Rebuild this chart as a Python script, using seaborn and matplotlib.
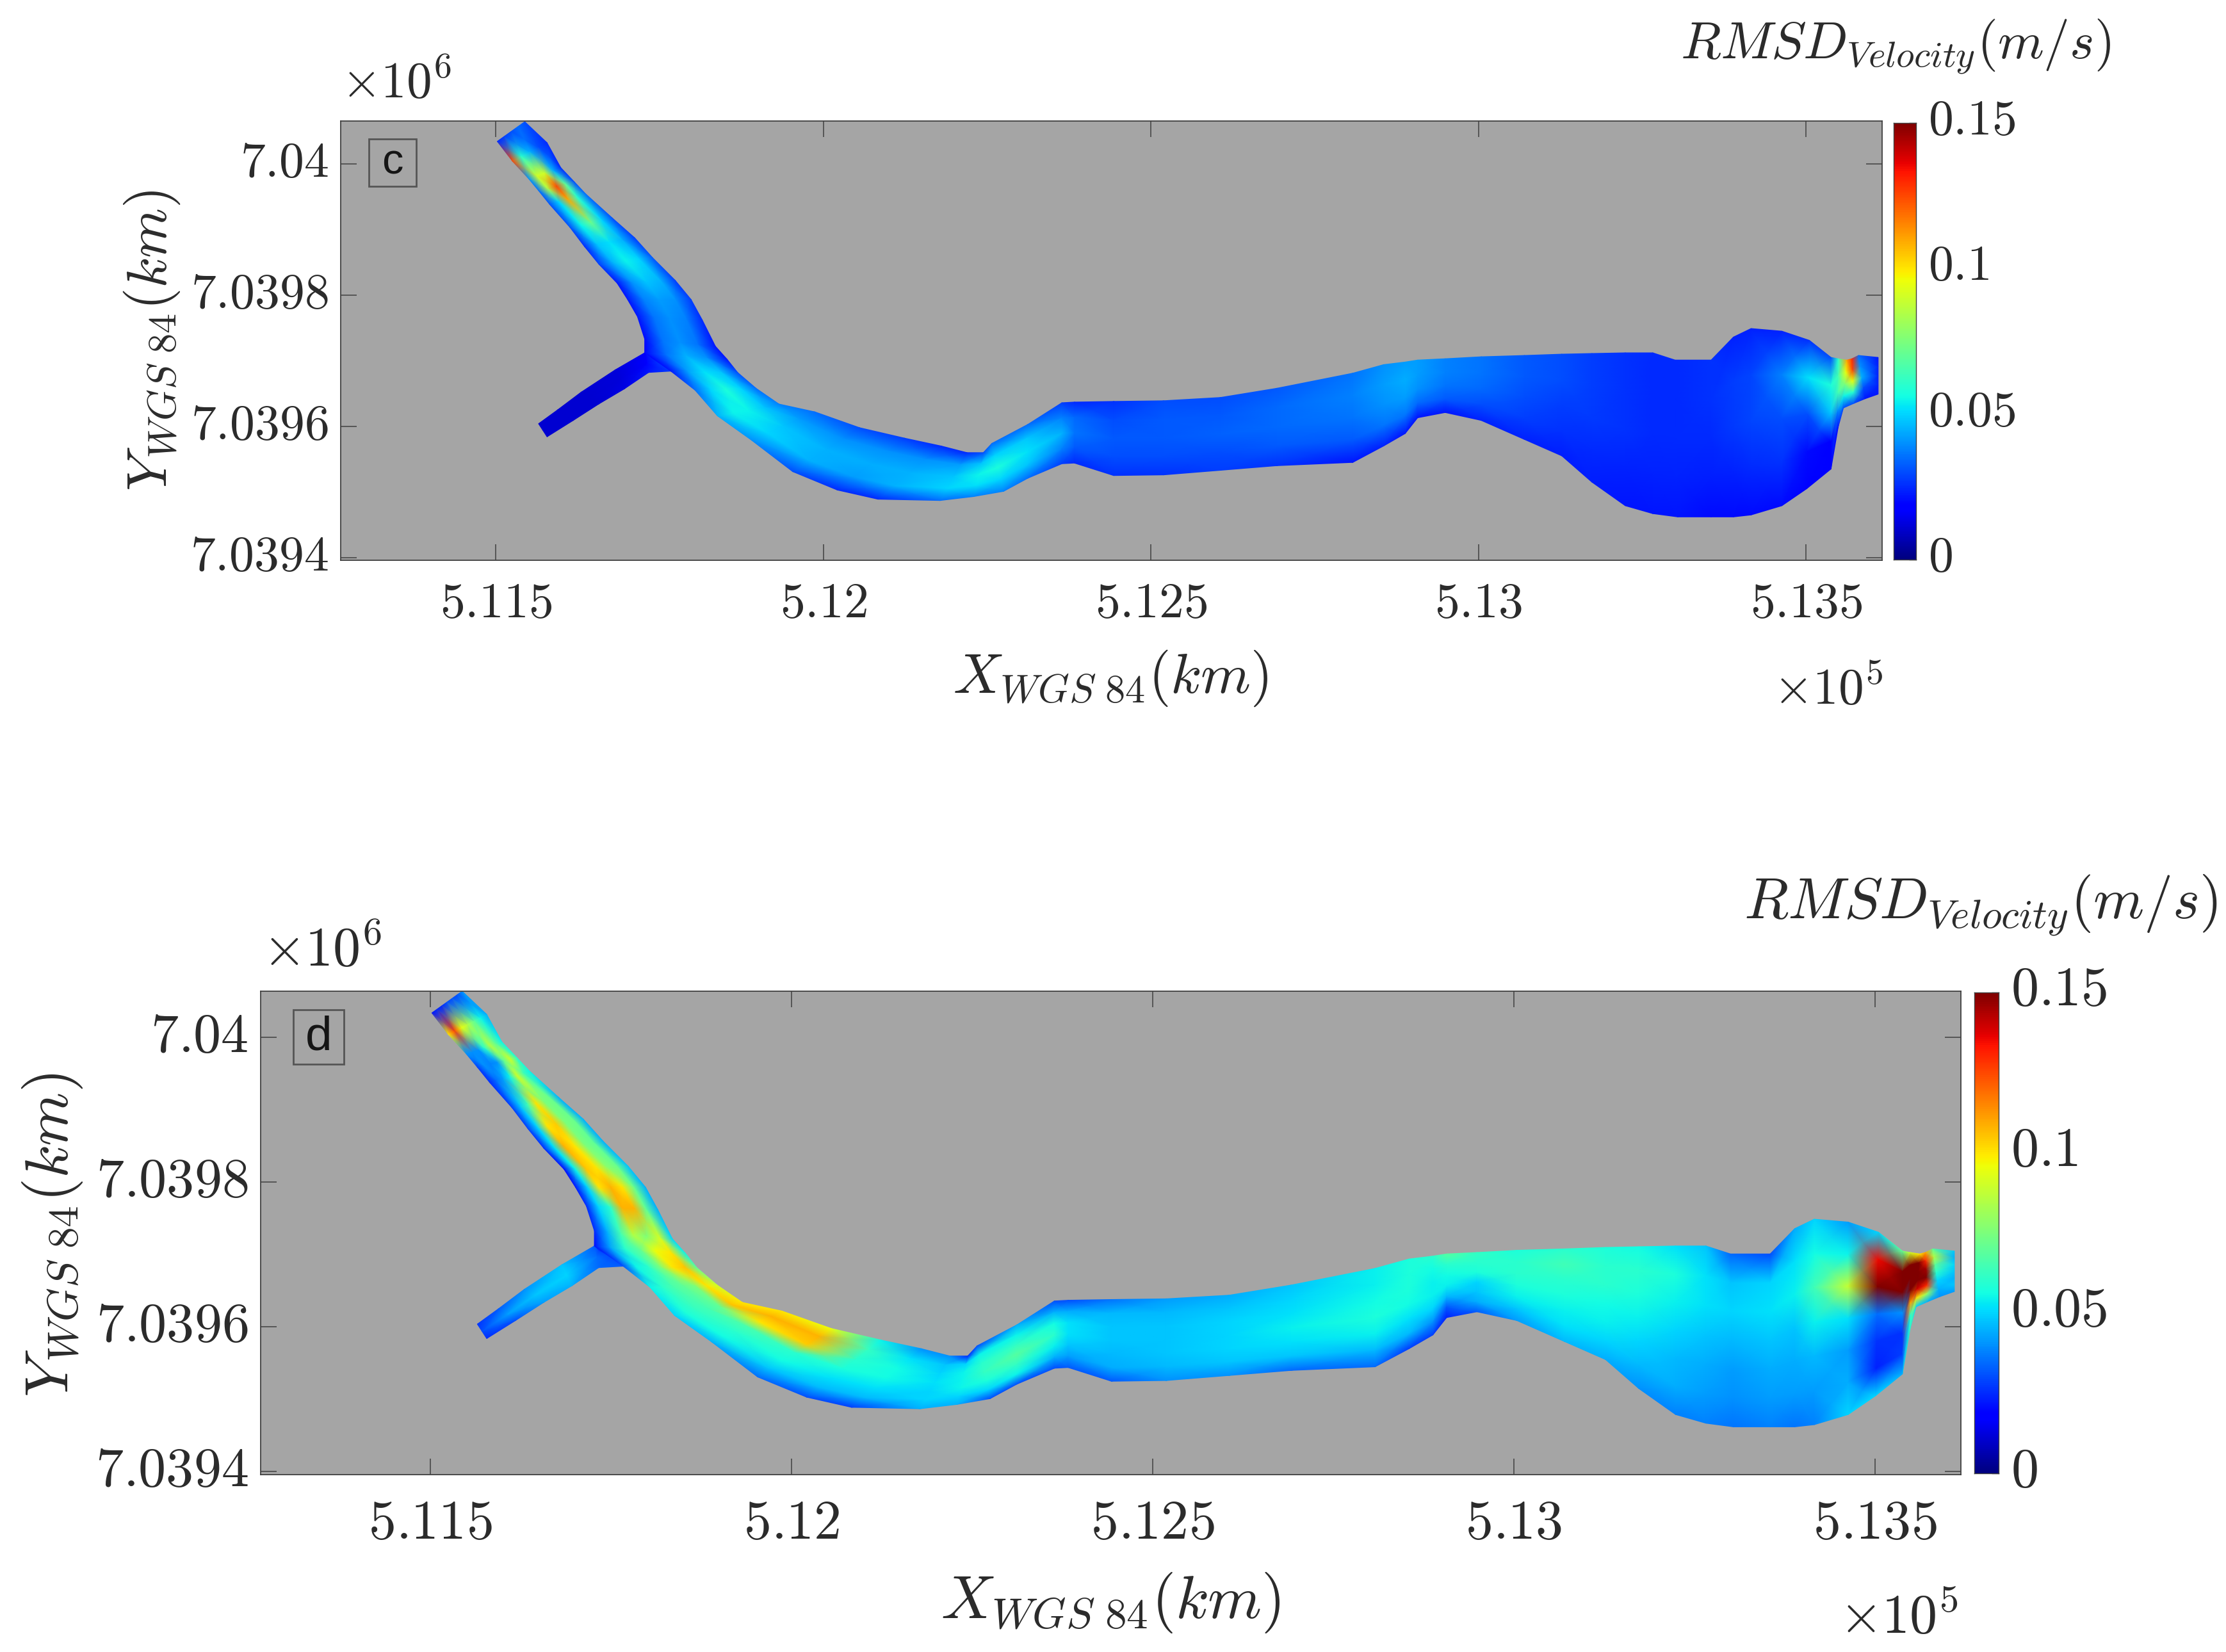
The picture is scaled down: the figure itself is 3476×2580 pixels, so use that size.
import numpy as np
import seaborn as sns
import matplotlib.pyplot as plt
from matplotlib.patches import Rectangle
from matplotlib.transforms import Affine2D

# river outline, metres relative to X0 / Y0 (one cross section per entry)
X0 = 511000
Y0 = 7039000
bank_a_x = [544, 578, 599, 620, 637, 678, 712, 739, 774, 798, 815, 835, 853, 869, 897, 932, 987, 1055, 1124, 1180,
            1219, 1244, 1257, 1312, 1364, 1383, 1443, 1519, 1606, 1692, 1808, 1855, 1888, 1907, 1949, 2004, 2070,
            2127, 2173, 2224, 2266, 2300, 2355, 2389, 2416, 2463, 2505, 2538, 2549, 2562, 2570, 2580, 2610]
bank_a_y = [1064, 1032, 994, 972, 954, 917, 887, 857, 822, 793, 762, 722, 702, 682, 658, 634, 622, 598, 582, 570,
            560, 560, 574, 603, 636, 637, 638, 639, 644, 658, 681, 694, 698, 701, 703, 706, 708,
            710, 711, 712, 712, 701, 701, 736, 749, 745, 731, 705, 703, 701, 703, 708, 705]
bank_b_x = [502, 525, 550, 565, 582, 613, 635, 657, 685, 701, 716, 727, 727, 767, 804, 838, 890, 953, 1021, 1083,
            1178, 1229, 1275, 1312, 1364, 1383, 1443, 1519, 1606, 1692, 1808, 1855, 1888, 1907, 1949, 2004, 2070,
            2127, 2173, 2224, 2266, 2304, 2355, 2389, 2416, 2463, 2501, 2538, 2549, 2557, 2573, 2590, 2610]
bank_b_y = [1034, 1004, 977, 959, 938, 903, 874, 847, 818, 793, 767, 733, 712, 684, 655, 616, 579, 531, 503, 489,
            487, 493, 501, 521, 543, 544, 525, 526, 533, 540, 545, 570, 589, 613, 621, 609, 580,
            555, 515, 479, 467, 462, 462, 462, 465, 479, 505, 535, 599, 628, 635, 642, 649]

# side channel
branch_a_x = [727, 727, 682, 630, 594, 565]
branch_a_y = [712, 712, 686, 652, 625, 604]
branch_b_x = [767, 733, 696, 657, 618, 578]
branch_b_y = [684, 682, 657, 634, 609, 584]

# RMSD in mm/s, read across each section from bank a to bank b
rmsd_c = [
    [30, 35, 30, 28, 25], [25, 30, 45, 60, 125], [25, 45, 90, 90, 40], [30, 70, 125, 85, 35],
    [35, 60, 110, 50, 30], [30, 50, 72, 55, 30], [28, 45, 52, 48, 25], [32, 50, 55, 45, 28],
    [28, 45, 48, 40, 22], [28, 40, 42, 38, 22], [25, 38, 40, 36, 22], [22, 36, 40, 36, 20],
    [22, 40, 45, 35, 18], [30, 48, 52, 42, 22], [35, 50, 58, 50, 35], [38, 48, 55, 55, 45],
    [35, 42, 48, 50, 40], [30, 40, 45, 45, 30], [28, 40, 44, 42, 25], [25, 40, 45, 45, 25],
    [25, 42, 48, 50, 35], [30, 48, 55, 52, 38], [35, 50, 58, 50, 38], [35, 48, 52, 48, 35],
    [28, 38, 45, 38, 28], [25, 34, 36, 32, 25], [26, 30, 32, 30, 26], [30, 32, 32, 30, 26],
    [30, 32, 33, 30, 28], [32, 34, 34, 32, 26], [36, 38, 36, 32, 22], [40, 42, 40, 36, 24],
    [42, 44, 42, 36, 22], [42, 42, 40, 34, 22], [38, 38, 36, 32, 22], [36, 36, 34, 30, 24],
    [32, 32, 30, 28, 24], [30, 30, 28, 26, 23], [28, 28, 27, 25, 23], [26, 26, 26, 24, 22],
    [25, 25, 25, 24, 22], [25, 25, 25, 24, 22], [26, 26, 25, 23, 20], [24, 28, 27, 24, 20],
    [24, 29, 29, 25, 20], [24, 38, 30, 26, 20], [26, 52, 30, 20, 19], [30, 58, 48, 18, 18],
    [60, 65, 65, 40, 20], [110, 95, 75, 55, 30], [130, 125, 95, 60, 30], [35, 40, 45, 30, 22],
    [22, 24, 24, 24, 22],
]
rmsd_d = [
    [40, 30, 30, 30, 25, 25, 22], [45, 55, 70, 85, 95, 125, 100], [55, 70, 85, 60, 40, 40, 40],
    [60, 90, 70, 40, 38, 40, 28], [55, 65, 90, 55, 42, 35, 25], [45, 72, 75, 100, 65, 48, 28],
    [45, 72, 75, 104, 100, 50, 28], [45, 70, 75, 100, 108, 52, 25], [48, 72, 78, 100, 105, 55, 20],
    [45, 72, 100, 108, 100, 50, 22], [45, 70, 108, 108, 60, 50, 25], [50, 90, 75, 85, 65, 45, 25],
    [55, 100, 95, 70, 60, 42, 20], [70, 105, 100, 75, 60, 55, 30], [90, 100, 75, 70, 66, 60, 55],
    [100, 105, 70, 65, 62, 58, 50], [100, 108, 100, 66, 60, 56, 45], [95, 108, 104, 60, 56, 48, 35],
    [55, 62, 60, 58, 52, 46, 30], [40, 52, 56, 56, 52, 46, 28], [40, 48, 50, 52, 50, 50, 45],
    [25, 50, 55, 55, 55, 50, 45], [30, 55, 60, 62, 58, 50, 30], [45, 55, 62, 68, 62, 55, 30],
    [30, 45, 56, 60, 54, 45, 30], [30, 44, 52, 52, 48, 42, 32], [36, 46, 48, 48, 46, 44, 32],
    [42, 46, 48, 48, 48, 46, 40], [44, 48, 50, 50, 50, 48, 40], [48, 50, 52, 54, 52, 48, 34],
    [54, 54, 56, 58, 54, 46, 34], [58, 58, 58, 56, 52, 46, 28], [60, 56, 54, 54, 50, 40, 28],
    [68, 60, 56, 54, 46, 32, 24], [62, 60, 58, 50, 48, 44, 32], [58, 60, 60, 58, 54, 48, 42],
    [60, 64, 60, 58, 54, 52, 46], [58, 60, 60, 56, 54, 50, 44], [56, 60, 58, 54, 50, 46, 40],
    [52, 58, 54, 50, 46, 44, 38], [48, 52, 52, 48, 44, 42, 38], [34, 48, 50, 46, 42, 40, 36],
    [30, 50, 52, 48, 44, 42, 38], [44, 52, 54, 48, 44, 42, 36], [50, 56, 64, 54, 46, 42, 38],
    [42, 55, 88, 52, 42, 44, 50], [50, 135, 150, 35, 26, 24, 50], [70, 155, 155, 40, 26, 28, 45],
    [90, 155, 155, 155, 110, 60, 60], [100, 150, 155, 155, 140, 100, 50], [110, 130, 145, 150, 130, 80, 45],
    [70, 85, 70, 60, 50, 45, 40], [48, 45, 50, 48, 45, 48, 42],
]
branch_c = [[22, 26, 28], [16, 18, 22], [12, 12, 13], [11, 11, 11], [11, 11, 11], [11, 11, 11]]
branch_d = [[22, 30, 32], [32, 35, 34], [48, 50, 45], [40, 48, 42], [32, 42, 30], [26, 30, 25]]

x_ticks = [511500, 512000, 512500, 513000, 513500]
x_labels = ['5.115', '5.12', '5.125', '5.13', '5.135']
y_ticks = [7040000, 7039800, 7039600, 7039400]
y_labels = ['7.04', '7.0398', '7.0396', '7.0394']
cbar_ticks = [0, 0.05, 0.1, 0.15]
cbar_labels = ['0', '0.05', '0.1', '0.15']
levels = np.linspace(0.15, 0, 256)

W, H = 3476, 2580
TXT = '#2b2b2b'
EDGE = '#404040'

sns.set_style('white')
plt.rcParams['mathtext.fontset'] = 'cm'
jet = plt.get_cmap('jet')

fig = plt.figure(figsize=(W / 100, H / 100), dpi=100)


def fx(x):
    return x / W


def fy(y):
    return 1 - y / H


def add_box(left, top, right, bottom):
    return fig.add_axes([fx(left), fy(bottom), (right - left) / W, (bottom - top) / H])


def section_mesh(ax_, bx_, ay_, by_, values):
    # spread the values evenly between the two banks of each section
    values = np.array(values) / 1000
    t = np.linspace(0, 1, values.shape[1])[None, :]
    xx = (np.array(ax_)[:, None] * (1 - t) + np.array(bx_)[:, None] * t) + X0
    yy = (np.array(ay_)[:, None] * (1 - t) + np.array(by_)[:, None] * t) + Y0
    return xx, yy, values


def raise_labels(labels, px):
    for lab in labels:
        lab.set_transform(lab.get_transform() + Affine2D().translate(0, px))


def draw_panel(box, cbox, xlim, ylim, main, branch, letter, lbox, fs, xpad, lfs):
    ax = add_box(*box)
    ax.set_facecolor('#a5a5a5')
    xx, yy, cc = section_mesh(branch_a_x, branch_b_x, branch_a_y, branch_b_y, branch)
    ax.pcolormesh(xx, yy, cc, shading='gouraud', cmap=jet, vmin=0, vmax=0.15)
    xx, yy, cc = section_mesh(bank_a_x, bank_b_x, bank_a_y, bank_b_y, main)
    ax.pcolormesh(xx, yy, cc, shading='gouraud', cmap=jet, vmin=0, vmax=0.15)
    ax.set_xlim(*xlim)
    ax.set_ylim(*ylim)
    ax.set_xticks(x_ticks)
    ax.set_xticklabels(['$%s$' % s for s in x_labels], fontsize=fs, color=TXT)
    ax.set_yticks(y_ticks)
    ax.set_yticklabels(['$%s$' % s for s in y_labels], fontsize=fs, color=TXT)
    ax.tick_params(axis='x', direction='in', length=18, width=1.1, color=EDGE, top=True, bottom=True, pad=xpad)
    ax.tick_params(axis='y', direction='in', length=18, width=1.1, color=EDGE, left=True, right=True, pad=14)
    raise_labels(ax.get_yticklabels(), 10)
    for s in ax.spines.values():
        s.set_visible(True)
        s.set_color(EDGE)
        s.set_linewidth(1.3)

    cax = add_box(*cbox)
    sns.heatmap(levels[:, None], ax=cax, cmap=jet, vmin=0, vmax=0.15, cbar=False,
                xticklabels=False, yticklabels=False)
    cax.yaxis.tick_right()
    cax.set_yticks([(0.15 - v) / 0.15 * len(levels) for v in cbar_ticks])
    cax.set_yticklabels(['$%s$' % s for s in cbar_labels], fontsize=fs, color=TXT, rotation=0)
    cax.tick_params(axis='y', direction='in', length=8, width=1, color=EDGE, right=True, pad=14)
    raise_labels(cax.get_yticklabels(), 12)
    for s in cax.spines.values():
        s.set_visible(True)
        s.set_color(EDGE)
        s.set_linewidth(1)

    left, top, right, bottom = lbox
    fig.add_artist(Rectangle((fx(left), fy(bottom)), (right - left) / W, (bottom - top) / H, fc='none',
                             ec='#555555', lw=2, transform=fig.transFigure))
    fig.text(fx((left + right) / 2), fy((top + bottom) / 2), letter, ha='center', va='center',
             family='Liberation Sans', fontsize=lfs, color='#151515')


# panel c
draw_panel((532, 189, 2939, 875), (2957, 192, 2992, 874), (511263, 513616), (7039396, 7040065),
           rmsd_c, branch_c, 'c', (576, 217, 650, 291), 56, 21, 48)
# panel d
draw_panel((407, 1548, 3062, 2303), (3083, 1550, 3121, 2301), (511265, 513619), (7039396, 7040064),
           rmsd_d, branch_d, 'd', (458, 1577, 537, 1662), 62, 25, 54)

xlab = r'$X_{WGS\ 84}(km)$'
ylab = r'$Y_{WGS\ 84}(km)$'
rms = r'$RMSD_{Velocity}(m/s)$'

fig.text(fx(1734), fy(1082), xlab, ha='center', va='baseline', fontsize=64, color=TXT)
fig.text(fx(1734), fy(2527), xlab, ha='center', va='baseline', fontsize=69, color=TXT)
fig.text(fx(237), fy(532), ylab, ha='center', va='center', rotation=90, fontsize=64, color=TXT)
fig.text(fx(82), fy(1929), ylab, ha='center', va='center', rotation=90, fontsize=69, color=TXT)
fig.text(fx(2624), fy(92), rms, ha='left', va='baseline', fontsize=59, color=TXT)
fig.text(fx(2723), fy(1434), rms, ha='left', va='baseline', fontsize=65, color=TXT)
fig.text(fx(533), fy(153), r'$\times 10^{6}$', ha='left', va='baseline', fontsize=57, color=TXT)
fig.text(fx(410), fy(1509), r'$\times 10^{6}$', ha='left', va='baseline', fontsize=62, color=TXT)
fig.text(fx(2769), fy(1100), r'$\times 10^{5}$', ha='left', va='baseline', fontsize=57, color=TXT)
fig.text(fx(2872), fy(2551), r'$\times 10^{5}$', ha='left', va='baseline', fontsize=62, color=TXT)

fig.savefig('out.png', dpi=100, facecolor='white')
